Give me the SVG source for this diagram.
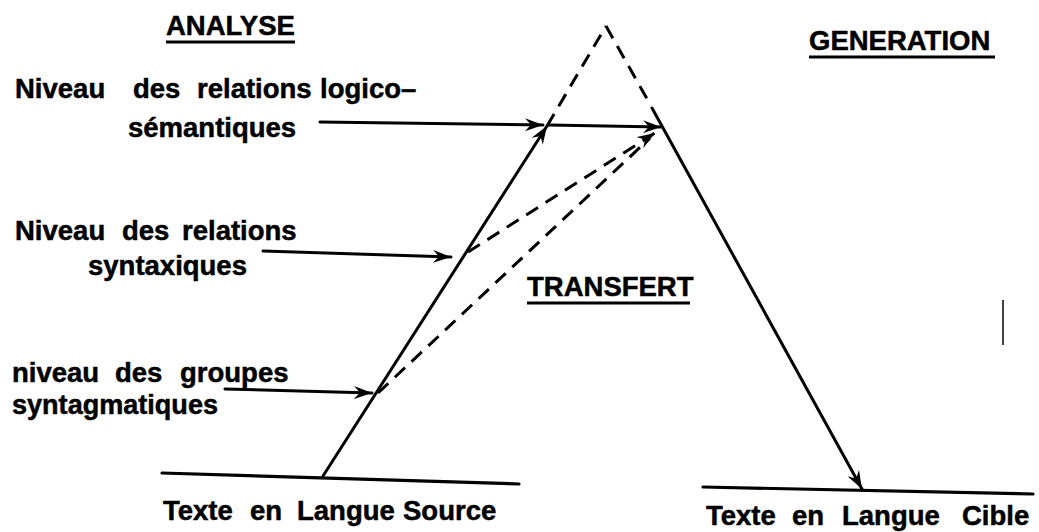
<svg xmlns="http://www.w3.org/2000/svg" width="1039" height="532" viewBox="0 0 1039 532">
<style>
text{font-family:"Liberation Sans",Arial,sans-serif;font-weight:bold;font-size:27.5px;fill:#000;stroke:#000;stroke-width:0.5}
.s{stroke:#000;stroke-width:3;fill:none;stroke-linecap:round}
.d{stroke:#000;stroke-width:3;fill:none;stroke-dasharray:14 9}
.b{stroke:#000;stroke-width:3.2;fill:none;stroke-linecap:round}
.u{stroke:#000;stroke-width:3}
</style>
<defs>
<marker id="ah" viewBox="0 0 18 13" refX="18" refY="6.5" markerWidth="18" markerHeight="13" markerUnits="userSpaceOnUse" orient="auto">
<path d="M0,0 L18,6.5 L0,13 L6,6.5 z" fill="#000"/>
</marker>
</defs>
<rect width="1039" height="532" fill="#fff"/>

<g id="titles">
<g id="analyse"><text x="166" y="35">ANALYSE</text><line class="u" x1="166" y1="42" x2="295" y2="42"/></g>
<g id="generation"><text x="809" y="50">GENERATION</text><line class="u" x1="809" y1="57" x2="995" y2="57"/></g>
<g id="transfert"><text x="527" y="296">TRANSFERT</text><line class="u" x1="527" y1="303" x2="690" y2="303"/></g>
</g>

<g id="level-logico">
<text y="98"><tspan x="15">Niveau</tspan><tspan x="133">des</tspan><tspan x="197">relations</tspan><tspan x="320">logico–</tspan></text>
<text x="128" y="137">sémantiques</text>
</g>
<g id="level-syntax">
<text y="240"><tspan x="15">Niveau</tspan><tspan x="122">des</tspan><tspan x="182">relations</tspan></text>
<text x="88" y="275">syntaxiques</text>
</g>
<g id="level-groupes">
<text y="382"><tspan x="12">niveau</tspan><tspan x="115">des</tspan><tspan x="180">groupes</tspan></text>
<text x="12" y="414" textLength="206" lengthAdjust="spacingAndGlyphs">syntagmatiques</text>
</g>
<g id="source">
<line class="b" x1="162" y1="473" x2="519" y2="484"/>
<text y="520"><tspan x="163">Texte</tspan><tspan x="250">en</tspan><tspan x="297">Langue</tspan><tspan x="403">Source</tspan></text>
</g>
<g id="cible">
<line class="b" x1="703" y1="487" x2="1033" y2="494"/>
<text y="525"><tspan x="706">Texte</tspan><tspan x="792">en</tspan><tspan x="842">Langue</tspan><tspan x="962">Cible</tspan></text>
</g>

<g id="connectors">
<line class="s" x1="323" y1="476" x2="547" y2="126" marker-end="url(#ah)"/>
<line class="d" x1="547" y1="126" x2="606" y2="26"/>
<line class="d" x1="606" y1="26" x2="651" y2="106"/>
<line class="s" x1="652" y1="108" x2="862" y2="489" marker-end="url(#ah)"/>
<line class="s" x1="320" y1="122" x2="543" y2="125" marker-end="url(#ah)"/>
<line class="s" x1="549" y1="125" x2="661" y2="127" marker-end="url(#ah)"/>
<line class="d" x1="468" y1="252" x2="655" y2="133" marker-end="url(#ah)"/>
<line class="d" x1="378" y1="393" x2="650" y2="138"/>
<line class="s" x1="263" y1="251" x2="451" y2="257" marker-end="url(#ah)"/>
<line class="s" x1="225" y1="389" x2="372" y2="393" marker-end="url(#ah)"/>
</g>
<line x1="1003" y1="300" x2="1003" y2="345" stroke="#000" stroke-width="1.5"/>
</svg>
